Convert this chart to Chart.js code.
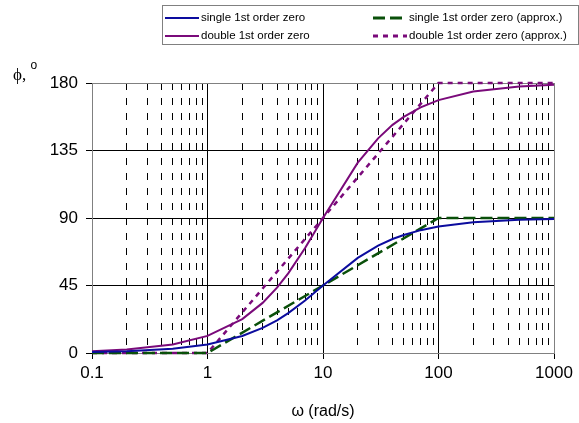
<!DOCTYPE html>
<html lang="en">
<head>
    <meta charset="UTF-8">
    <title>Phase of first order zeros</title>
    <script src="https://cdn.jsdelivr.net/npm/chart.js"></script>
    <style>
        body { margin: 0; background: #fff; font-family: "Liberation Sans", Arial, sans-serif; }
        #wrap { position: relative; width: 579px; height: 423px; }
        #legend {
            position: absolute; left: 162px; top: 5px; width: 415px; height: 38px;
            border: 1px solid #808080; font-size: 11.5px; color: #000;
        }
        .item { position: absolute; height: 14px; line-height: 14px; white-space: nowrap; }
        .item svg { vertical-align: middle; margin-right: 2px; }
        #ytitle { position: absolute; left: 13px; top: 62px; font-family: "Liberation Serif", serif; font-size: 17px; }
        #ytitle sup { font-family: "Liberation Sans", Arial, sans-serif; font-size: 12px; position: relative; top: -4px; }
    </style>
</head>
<body>
<div id="wrap">
    <canvas id="phaseChart" width="579" height="423"></canvas>
    <div id="legend"></div>
    <div id="ytitle">&#981;, <sup>o</sup></div>
</div>
<script>
    // frequencies (rad/s) where the exact curves were sampled
    const omega = [0.1, 0.2, 0.5, 1, 2, 3, 4, 5, 7, 10, 20, 30, 40, 50, 70, 100, 200, 500, 1000];
    // phase in degrees
    const singleZero = [0.6, 1.1, 2.9, 5.7, 11.3, 16.7, 21.8, 26.6, 35.0, 45, 63.4, 71.6, 76.0, 78.7, 81.9, 84.3, 87.1, 88.9, 89.4];
    const doubleZero = [1.1, 2.3, 5.7, 11.4, 22.6, 33.4, 43.6, 53.1, 70.0, 90, 126.9, 143.1, 152.1, 157.4, 163.7, 168.6, 174.3, 177.7, 178.9];
    // straight-line approximations
    const approxOmega = [0.1, 1, 10, 100, 1000];
    const singleApprox = [0, 0, 45, 90, 90];
    const doubleApprox = [0, 0, 90, 180, 180];

    const decades = [0.1, 1, 10, 100, 1000];
    const yTicks = [0, 45, 90, 135, 180];

    const labels = ['single 1st order zero', 'double 1st order zero',
                    'single 1st order zero (approx.)', 'double 1st order zero (approx.)'];

    const blue = '#0c0c9e', purple = '#7a0a7a', green = '#0a500a';

    // all grid positions 1..9 x decade
    const gridValues = [];
    decades.forEach((d, i) => {
        if (i === decades.length - 1) { gridValues.push(d); return; }
        for (let k = 1; k <= 9; k++) gridValues.push(+(d * k).toPrecision(3));
    });
    const isDecade = v => decades.some(d => Math.abs(d - v) < 1e-9);
    const edgeX = v => Math.abs(v - 0.1) < 1e-9 || Math.abs(v - 1000) < 1e-9;

    const pts = (xs, ys) => xs.map((x, i) => ({ x: x, y: ys[i] }));

    const ctx = document.getElementById('phaseChart').getContext('2d');
    const chart = new Chart(ctx, {
        type: 'line',
        data: {
            datasets: [
                { label: labels[0], data: pts(omega, singleZero), borderColor: blue, borderWidth: 2, order: 1 },
                { label: labels[1], data: pts(omega, doubleZero), borderColor: purple, borderWidth: 2, order: 2 },
                { label: labels[2], data: pts(approxOmega, singleApprox), borderColor: green, borderWidth: 2.5, borderDash: [12, 5], order: 3 },
                { label: labels[3], data: pts(approxOmega, doubleApprox), borderColor: purple, borderWidth: 2.5, borderDash: [5, 5], order: 4 }
            ]
        },
        options: {
            responsive: false,
            animation: false,
            clip: false,
            elements: { point: { radius: 0 }, line: { tension: 0, fill: false } },
            layout: { padding: { top: 83, right: 25, left: 0, bottom: 0 } },
            plugins: { legend: { display: false }, tooltip: { enabled: false } },
            scales: {
                x: {
                    type: 'logarithmic',
                    min: 0.1,
                    max: 1000,
                    afterBuildTicks: s => { s.ticks = gridValues.map(v => ({ value: v })); },
                    afterFit: s => { s.height = 70; },
                    ticks: {
                        autoSkip: false, maxRotation: 0, padding: 4, color: '#000',
                        font: { family: '"Liberation Sans", Arial', size: 17 },
                        callback: v => isDecade(v) ? String(v) : ''
                    },
                    grid: {
                        color: c => edgeX(c.tick.value) ? '#808080' : '#000',
                        lineWidth: 1,
                        tickLength: 6,
                        tickColor: c => isDecade(c.tick.value) ? '#000' : 'rgba(0,0,0,0)'
                    },
                    border: {
                        color: '#808080',
                        dash: c => (c.tick && !isDecade(c.tick.value)) ? [7, 8] : []
                    },
                    title: {
                        display: true, text: '\u03c9 (rad/s)', color: '#000',
                        font: { family: '"Liberation Sans", Arial', size: 16 },
                        padding: { top: 0, bottom: 2 }
                    }
                },
                y: {
                    min: 0,
                    max: 180,
                    afterBuildTicks: s => { s.ticks = yTicks.map(v => ({ value: v })); },
                    afterFit: s => { s.width = 92; },
                    ticks: {
                        padding: 8, color: '#000',
                        font: { family: '"Liberation Sans", Arial', size: 17 }
                    },
                    grid: {
                        color: c => (c.tick.value === 0 || c.tick.value === 180) ? '#808080' : '#000',
                        lineWidth: 1,
                        tickLength: 6,
                        tickColor: '#000'
                    },
                    border: { color: '#808080' }
                }
            }
        }
    });

    // legend in two columns like the original
    const legendStyles = [
        { color: blue, dash: '', width: 2 },
        { color: purple, dash: '', width: 2 },
        { color: green, dash: '12 5', width: 3 },
        { color: purple, dash: '5 5', width: 3 }
    ];
    const legend = document.getElementById('legend');
    labels.forEach((text, i) => {
        const st = legendStyles[i];
        const div = document.createElement('div');
        div.className = 'item';
        div.style.left = (i < 2 ? 2 : 210) + 'px';
        div.style.top = (i % 2 === 0 ? 4 : 22) + 'px';
        div.innerHTML = '<svg width="34" height="6"><line x1="0" y1="3" x2="34" y2="3" stroke="' + st.color +
            '" stroke-width="' + st.width + '"' + (st.dash ? ' stroke-dasharray="' + st.dash + '"' : '') + '/></svg>' +
            '<span></span>';
        div.querySelector('span').textContent = text;
        legend.appendChild(div);
    });
</script>
</body>
</html>
